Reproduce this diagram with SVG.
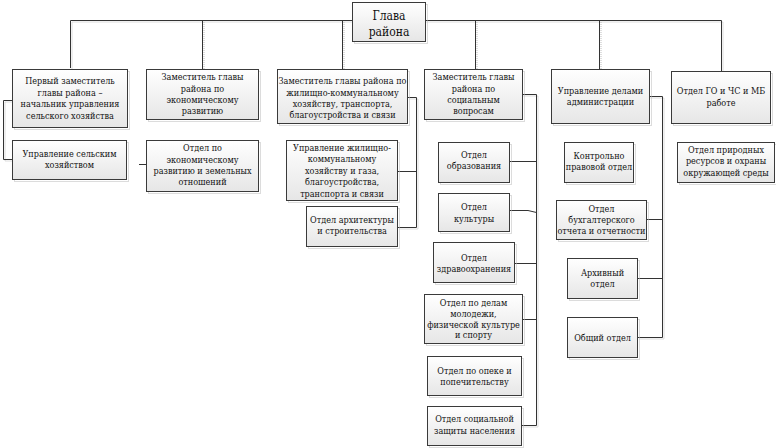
<svg xmlns="http://www.w3.org/2000/svg" width="776" height="448" viewBox="0 0 776 448">
<defs>
<linearGradient id="g" x1="0" y1="0" x2="0" y2="1">
<stop offset="0" stop-color="#ffffff"/>
<stop offset="1" stop-color="#e6e6e6"/>
</linearGradient>
</defs>
<style>
.b{fill:url(#g);stroke:#3a3a3a;stroke-width:1}
.s{fill:none;stroke:#b8b8b8;stroke-width:1;stroke-dasharray:1 1}
.c{fill:none;stroke:#333333;stroke-width:1}
.cs{fill:none;stroke:#bdbdbd;stroke-width:1;stroke-dasharray:1 1}
text{font-family:'DejaVu Serif Condensed','DejaVu Serif',serif;font-stretch:condensed;font-size:9px;fill:#111;text-anchor:middle}
.big{font-size:12px}
</style>
<rect width="776" height="448" fill="#ffffff"/>
<g id="connectors">
<g transform="translate(1.5,1.5)" class="cs">
<path d="M70.5,68 V20.5 H352"/><path d="M425,20.5 H721.5 V71"/>
<path d="M202.5,20.5 V69"/><path d="M342.5,20.5 V69"/><path d="M475.5,20.5 V69"/><path d="M599.5,20.5 V69"/>
<path d="M12,100.5 H3.5 V159.5 H12"/>
<path d="M408,97.5 H416.5 V227.5 H397"/>
<path d="M522,94.5 H536.5 V425.5 H521"/>
<path d="M649,96.5 H662.5 V337.5 H637"/>
</g>
<path class="c" d="M70.5,68 V20.5 H352"/>
<path class="c" d="M425,20.5 H721.5 V71"/>
<path class="c" d="M202.5,20.5 V69"/>
<path class="c" d="M342.5,20.5 V69"/>
<path class="c" d="M475.5,20.5 V69"/>
<path class="c" d="M599.5,20.5 V69"/>
<path class="c" d="M12,100.5 H3.5 V159.5 H12"/>
<path class="c" d="M139,164.5 H146"/>
<path class="c" d="M408,97.5 H416.5 V227.5 H397"/>
<path class="c" d="M416.5,171.5 H397"/>
<path class="c" d="M522,94.5 H536.5 V425.5 H521"/>
<path class="c" d="M509,161.5 H536.5"/>
<path class="c" d="M509,210.5 H528 L536.5,212.5"/>
<path class="c" d="M514,263.5 H536.5"/>
<path class="c" d="M522,319.5 H536.5"/>
<path class="c" d="M649,96.5 H662.5 V337.5 H637"/>
<path class="c" d="M646,219.5 H662.5"/>
<path class="c" d="M637,278.5 H662.5"/>
</g>
<g id="n0"><rect class="s" x="354.5" y="4.5" width="73" height="39"/><rect class="b" x="352.5" y="2.5" width="73" height="39"/><text class="big" x="389" y="19.5">Глава</text><text class="big" x="389" y="35.5">района</text></g>
<g id="n1"><rect class="s" x="14.5" y="71.5" width="115" height="58"/><rect class="b" x="12.5" y="69.5" width="115" height="58"/><text x="70" y="84">Первый заместитель</text><text x="70" y="95.5">главы района –</text><text x="70" y="107">начальник управления</text><text x="70" y="118.5">сельского хозяйства</text></g>
<g id="n2"><rect class="s" x="148.5" y="71.5" width="112" height="50"/><rect class="b" x="146.5" y="69.5" width="112" height="50"/><text x="202.5" y="80">Заместитель главы</text><text x="202.5" y="91.5">района по</text><text x="202.5" y="103">экономическому</text><text x="202.5" y="114">развитию</text></g>
<g id="n3"><rect class="s" x="279.5" y="71.5" width="130" height="54"/><rect class="b" x="277.5" y="69.5" width="130" height="54"/><text x="342.5" y="84">Заместитель главы района по</text><text x="342.5" y="95.5">жилищно-коммунальному</text><text x="342.5" y="107">хозяйству, транспорта,</text><text x="342.5" y="117.5">благоустройства и связи</text></g>
<g id="n4"><rect class="s" x="426.5" y="71.5" width="98" height="50"/><rect class="b" x="424.5" y="69.5" width="98" height="50"/><text x="473.5" y="80">Заместитель главы</text><text x="473.5" y="91.5">района по</text><text x="473.5" y="103">социальным</text><text x="473.5" y="114">вопросам</text></g>
<g id="n5"><rect class="s" x="553.5" y="71.5" width="98" height="54"/><rect class="b" x="551.5" y="69.5" width="98" height="54"/><text x="600.5" y="93.5">Управление делами</text><text x="600.5" y="104.5">администрации</text></g>
<g id="n6"><rect class="s" x="673.5" y="73.5" width="99" height="52"/><rect class="b" x="671.5" y="71.5" width="99" height="52"/><text x="721" y="94">Отдел ГО и ЧС и МБ</text><text x="721" y="106">работе</text></g>
<g id="n7"><rect class="s" x="14.5" y="142.5" width="114" height="39"/><rect class="b" x="12.5" y="140.5" width="114" height="39"/><text x="69.5" y="157">Управление сельским</text><text x="69.5" y="167.5">хозяйством</text></g>
<g id="n8"><rect class="s" x="148.5" y="142.5" width="112" height="51"/><rect class="b" x="146.5" y="140.5" width="112" height="51"/><text x="202.5" y="151">Отдел по</text><text x="202.5" y="162.5">экономическому</text><text x="202.5" y="174">развитию и земельных</text><text x="202.5" y="185">отношений</text></g>
<g id="n9"><rect class="s" x="288.5" y="142.5" width="111" height="60"/><rect class="b" x="286.5" y="140.5" width="111" height="60"/><text x="342" y="150.5">Управление жилищно-</text><text x="342" y="162">коммунальному</text><text x="342" y="173.5">хозяйству и газа,</text><text x="342" y="185">благоустройства,</text><text x="342" y="196.5">транспорта и связи</text></g>
<g id="n10"><rect class="s" x="308.5" y="208.5" width="91" height="40"/><rect class="b" x="306.5" y="206.5" width="91" height="40"/><text x="352" y="223">Отдел архитектуры</text><text x="352" y="234">и строительства</text></g>
<g id="n11"><rect class="s" x="440.5" y="144.5" width="71" height="40"/><rect class="b" x="438.5" y="142.5" width="71" height="40"/><text x="474" y="158">Отдел</text><text x="474" y="169">образования</text></g>
<g id="n12"><rect class="s" x="440.5" y="195.5" width="71" height="38"/><rect class="b" x="438.5" y="193.5" width="71" height="38"/><text x="474" y="210">Отдел</text><text x="474" y="221.5">культуры</text></g>
<g id="n13"><rect class="s" x="435.5" y="244.5" width="81" height="40"/><rect class="b" x="433.5" y="242.5" width="81" height="40"/><text x="474" y="261">Отдел</text><text x="474" y="271.5">здравоохранения</text></g>
<g id="n14"><rect class="s" x="426.5" y="296.5" width="98" height="49"/><rect class="b" x="424.5" y="294.5" width="98" height="49"/><text x="473.5" y="306">Отдел по делам</text><text x="473.5" y="317">молодежи,</text><text x="473.5" y="327.5">физической культуре</text><text x="473.5" y="338">и спорту</text></g>
<g id="n15"><rect class="s" x="429.5" y="358.5" width="94" height="39"/><rect class="b" x="427.5" y="356.5" width="94" height="39"/><text x="474.5" y="374">Отдел по опеке и</text><text x="474.5" y="384.5">попечительству</text></g>
<g id="n16"><rect class="s" x="429.5" y="408.5" width="94" height="39"/><rect class="b" x="427.5" y="406.5" width="94" height="39"/><text x="474.5" y="422">Отдел социальной</text><text x="474.5" y="434">защиты населения</text></g>
<g id="n17"><rect class="s" x="566.5" y="144.5" width="69" height="40"/><rect class="b" x="564.5" y="142.5" width="69" height="40"/><text x="599" y="159">Контрольно</text><text x="599" y="170">правовой отдел</text></g>
<g id="n18"><rect class="s" x="558.5" y="202.5" width="90" height="39"/><rect class="b" x="556.5" y="200.5" width="90" height="39"/><text x="601.5" y="212">Отдел</text><text x="601.5" y="223">бухгалтерского</text><text x="601.5" y="234">отчета и отчетности</text></g>
<g id="n19"><rect class="s" x="569.5" y="260.5" width="70" height="40"/><rect class="b" x="567.5" y="258.5" width="70" height="40"/><text x="602.5" y="276">Архивный</text><text x="602.5" y="287">отдел</text></g>
<g id="n20"><rect class="s" x="569.5" y="319.5" width="70" height="40"/><rect class="b" x="567.5" y="317.5" width="70" height="40"/><text x="602.5" y="341">Общий отдел</text></g>
<g id="n21"><rect class="s" x="679.5" y="144.5" width="97" height="40"/><rect class="b" x="677.5" y="142.5" width="97" height="40"/><text x="726" y="153">Отдел природных</text><text x="726" y="164">ресурсов и охраны</text><text x="726" y="175.5">окружающей среды</text></g>
</svg>
